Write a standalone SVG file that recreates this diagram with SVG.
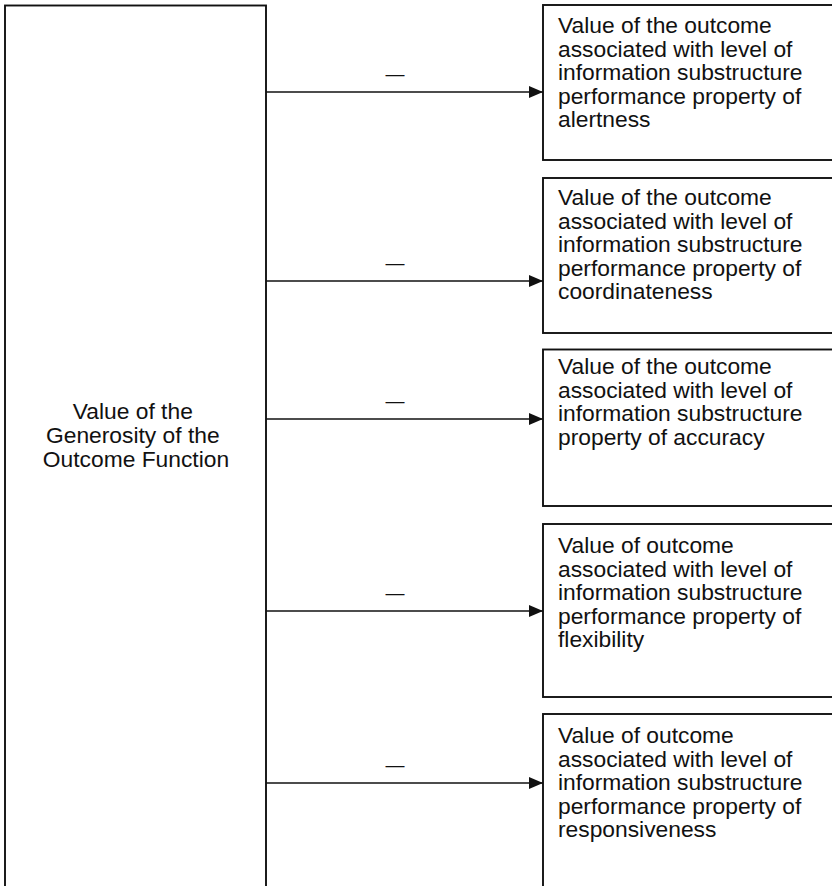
<svg xmlns="http://www.w3.org/2000/svg" width="832" height="886" viewBox="0 0 832 886">
  <style>
    .box { fill: #ffffff; stroke: #111111; stroke-width: 1.9; }
    .lbl { font-family: "Liberation Sans", Arial, sans-serif; font-size: 22.8px; fill: #111111; }
    .sign { font-family: "Liberation Sans", Arial, sans-serif; font-size: 19px; fill: #111111; text-anchor: middle; }
    .wire { stroke: #111111; stroke-width: 1.7; fill: none; marker-end: url(#head); }
  </style>
  <defs>
    <marker id="head" markerWidth="14" markerHeight="12" refX="14" refY="6" orient="auto" markerUnits="userSpaceOnUse">
      <path d="M0,0 L14,6 L0,12 Z" fill="#111111"/>
    </marker>
  </defs>
  <rect width="832" height="886" fill="#ffffff"/>

  <!-- source node: open at the bottom edge -->
  <g id="generosity">
    <rect class="box" x="5" y="5.5" width="261" height="900"/>
    <text class="lbl" text-anchor="middle">
      <tspan x="136" y="419">Value of the</tspan>
      <tspan x="136" y="443">Generosity of the</tspan>
      <tspan x="136" y="467">Outcome Function</tspan>
    </text>
  </g>

  <!-- target nodes: run off the right edge -->
  <g id="alertness">
    <rect class="box" x="543" y="5" width="300" height="155"/>
    <text class="lbl">
      <tspan x="558" y="33">Value of the outcome</tspan>
      <tspan x="558" y="56.5">associated with level of</tspan>
      <tspan x="558" y="80">information substructure</tspan>
      <tspan x="558" y="103.5">performance property of</tspan>
      <tspan x="558" y="127">alertness</tspan>
    </text>
  </g>
  <g id="coordinateness">
    <rect class="box" x="543" y="178" width="300" height="155"/>
    <text class="lbl">
      <tspan x="558" y="205">Value of the outcome</tspan>
      <tspan x="558" y="228.5">associated with level of</tspan>
      <tspan x="558" y="252">information substructure</tspan>
      <tspan x="558" y="275.5">performance property of</tspan>
      <tspan x="558" y="299">coordinateness</tspan>
    </text>
  </g>
  <g id="accuracy">
    <rect class="box" x="543" y="349.5" width="300" height="156.5"/>
    <text class="lbl">
      <tspan x="558" y="374">Value of the outcome</tspan>
      <tspan x="558" y="397.5">associated with level of</tspan>
      <tspan x="558" y="421">information substructure</tspan>
      <tspan x="558" y="444.5">property of accuracy</tspan>
    </text>
  </g>
  <g id="flexibility">
    <rect class="box" x="543" y="524" width="300" height="173"/>
    <text class="lbl">
      <tspan x="558" y="553">Value of outcome</tspan>
      <tspan x="558" y="576.5">associated with level of</tspan>
      <tspan x="558" y="600">information substructure</tspan>
      <tspan x="558" y="623.5">performance property of</tspan>
      <tspan x="558" y="647">flexibility</tspan>
    </text>
  </g>
  <g id="responsiveness">
    <rect class="box" x="543" y="714" width="300" height="200"/>
    <text class="lbl">
      <tspan x="558" y="743">Value of outcome</tspan>
      <tspan x="558" y="766.5">associated with level of</tspan>
      <tspan x="558" y="790">information substructure</tspan>
      <tspan x="558" y="813.5">performance property of</tspan>
      <tspan x="558" y="837">responsiveness</tspan>
    </text>
  </g>

  <!-- connectors with their negative signs -->
  <g id="connectors">
    <line class="wire" x1="266" y1="92" x2="543" y2="92"/>
    <text class="sign" x="395" y="79.5">—</text>
    <line class="wire" x1="266" y1="281" x2="543" y2="281"/>
    <text class="sign" x="395" y="268.5">—</text>
    <line class="wire" x1="266" y1="419" x2="543" y2="419"/>
    <text class="sign" x="395" y="406.5">—</text>
    <line class="wire" x1="266" y1="611" x2="543" y2="611"/>
    <text class="sign" x="395" y="598.5">—</text>
    <line class="wire" x1="266" y1="783" x2="543" y2="783"/>
    <text class="sign" x="395" y="770.5">—</text>
  </g>
</svg>
